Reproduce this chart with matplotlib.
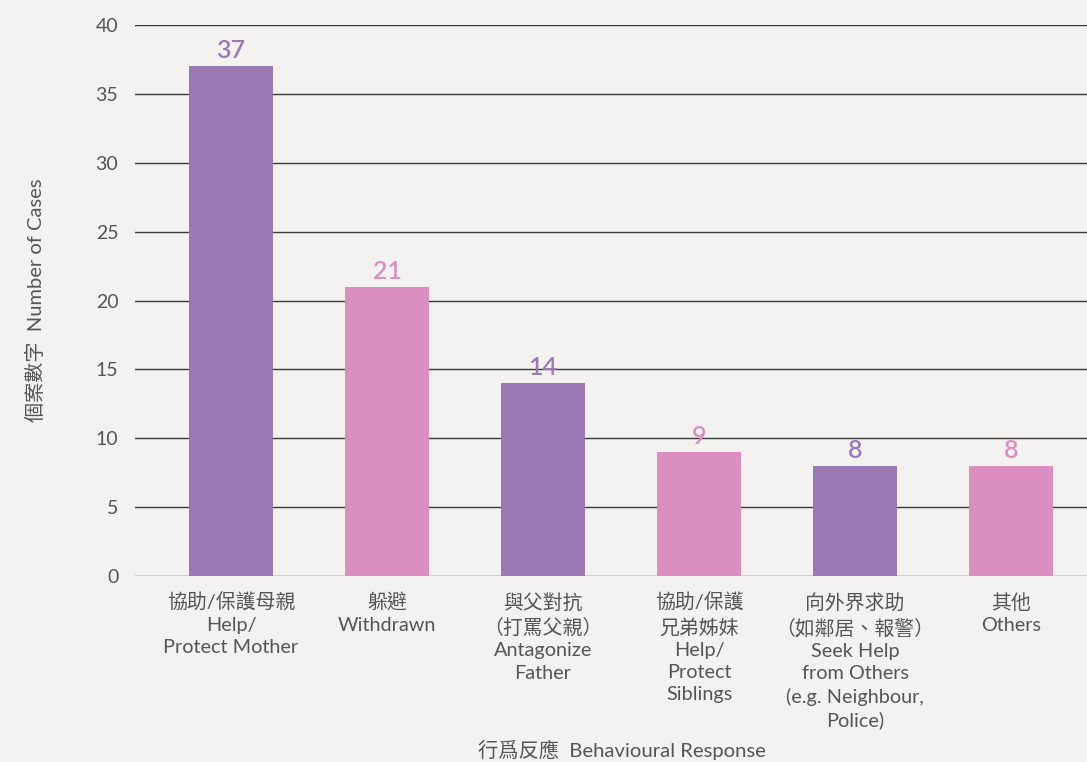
import matplotlib
matplotlib.use("Agg")
import matplotlib.pyplot as plt

categories = [
    "協助/保護母親\nHelp/\nProtect Mother",
    "躲避\nWithdrawn",
    "與父對抗\n（打罵父親）\nAntagonize\nFather",
    "協助/保護\n兄弟姊妹\nHelp/\nProtect\nSiblings",
    "向外界求助\n（如鄰居、報警）\nSeek Help\nfrom Others\n(e.g. Neighbour,\nPolice)",
    "其他\nOthers",
]
values = [37, 21, 14, 9, 8, 8]
yticks = [0, 5, 10, 15, 20, 25, 30, 35, 40]

purple = "#9a79b5"
pink = "#da8fc0"
colors = [purple, pink, purple, pink, purple, pink]
bg = "#f3f2f0"
txt = "#555555"

plt.rcParams['font.family'] = ['Lato', 'Noto Sans CJK TC', 'DejaVu Sans']

fig = plt.figure(figsize=(10.87, 7.62), dpi=100, facecolor=bg)
ax = fig.add_axes([135/1087, (762-576)/762, 1 - 135/1087, (576-25)/762])
ax.set_facecolor(bg)

x = list(range(len(values)))
ax.set_axisbelow(True)
ax.yaxis.grid(True, color="#3a3a3a", linewidth=1.0)
bars = ax.bar(x, values, width=0.54, color=colors, zorder=2)

for xi, v, c in zip(x, values, colors):
    ax.annotate(str(v), (xi, v), xytext=(0, 3), textcoords="offset points",
                ha="center", va="bottom", fontsize=18, color=c, fontweight="semibold")

ax.set_ylim(0, 40)
ax.set_xlim(-0.615, 5.487)
ax.set_yticks(yticks)
ax.set_xticks(x)
ax.set_xticklabels(categories, fontsize=14.3, color=txt, linespacing=1.38)
ax.tick_params(axis="y", length=0, pad=12, labelsize=14, labelcolor=txt)
ax.tick_params(axis="x", length=0, pad=12)
for s in ax.spines.values():
    s.set_visible(False)

ax.set_ylabel("個案數字  Number of Cases", fontsize=14.5, color=txt)
ax.yaxis.set_label_coords(-0.095, 0.5)
fig.text(622/1087, 1 - 750/762, "行爲反應  Behavioural Response", ha="center", va="center",
         fontsize=14.6, color=txt)

fig.savefig("out.png", dpi=100, facecolor=bg)
